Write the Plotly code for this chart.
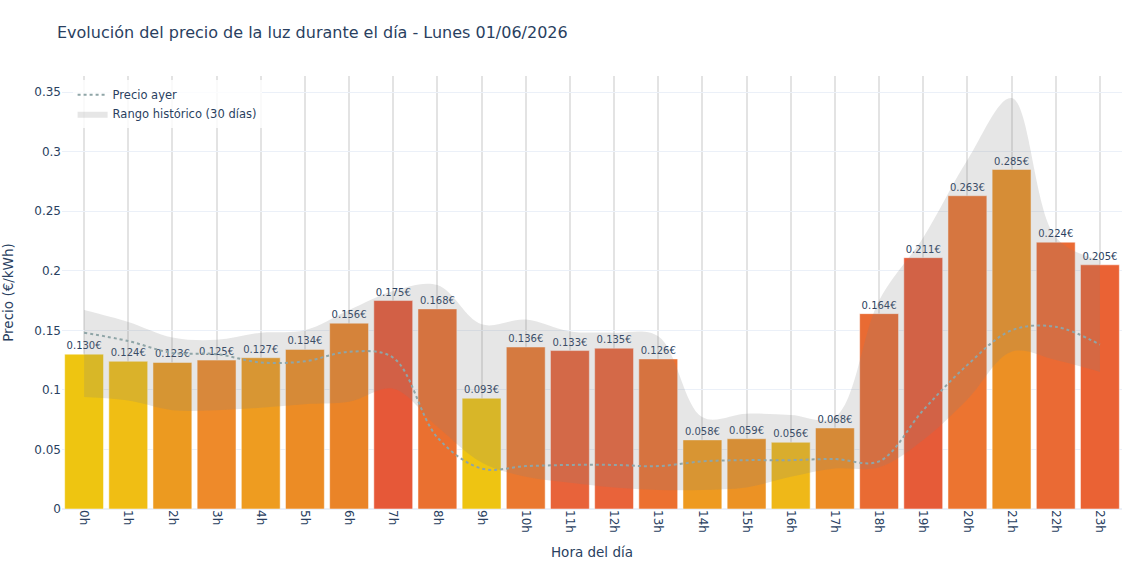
import plotly.graph_objects as go

horas = [f"{h}h" for h in range(24)]
precio_hoy = [0.130, 0.124, 0.123, 0.125, 0.127, 0.134, 0.156, 0.175, 0.168, 0.093,
              0.136, 0.133, 0.135, 0.126, 0.058, 0.059, 0.056, 0.068, 0.164, 0.211,
              0.263, 0.285, 0.224, 0.205]
precio_ayer = [0.148, 0.141, 0.131, 0.130, 0.123, 0.124, 0.132, 0.127, 0.060, 0.034,
               0.036, 0.037, 0.037, 0.036, 0.040, 0.041, 0.041, 0.042, 0.040, 0.083,
               0.121, 0.150, 0.153, 0.138]
rango_max = [0.167, 0.157, 0.144, 0.142, 0.148, 0.150, 0.167, 0.183, 0.188, 0.155,
             0.159, 0.149, 0.148, 0.145, 0.077, 0.080, 0.079, 0.077, 0.175, 0.228,
             0.293, 0.345, 0.228, 0.209]
rango_min = [0.094, 0.091, 0.083, 0.083, 0.085, 0.088, 0.090, 0.101, 0.069, 0.039,
             0.027, 0.022, 0.018, 0.016, 0.016, 0.018, 0.027, 0.034, 0.035, 0.058,
             0.092, 0.132, 0.125, 0.115]
colores_barras = ["#EEC511", "#F0BE14", "#EC9A20", "#EE8A2A", "#EE9C20", "#EC8C25",
                  "#EA8428", "#E65838", "#EA7030", "#EEC412", "#EA7830", "#E8633A",
                  "#E9633A", "#EC7030", "#EE9A20", "#EC9224", "#EFB818", "#EC8C25",
                  "#E96B33", "#E65B38", "#EC7430", "#EC9024", "#EA6A34", "#EA6234"]

fig = go.Figure()

fig.add_trace(go.Bar(
    x=horas, y=precio_hoy,
    marker=dict(color=colores_barras, line=dict(color="rgba(255,255,255,0.5)", width=1)),
    text=[f"{v:.3f}€" for v in precio_hoy],
    textposition="outside",
    textfont=dict(size=10, color="#2a3f5f"),
    showlegend=False,
    name="Precio hoy",
))

fig.add_trace(go.Scatter(
    x=horas, y=rango_min, mode="lines",
    line=dict(width=0, shape="spline"),
    showlegend=False, hoverinfo="skip",
))
fig.add_trace(go.Scatter(
    x=horas, y=rango_max, mode="lines",
    line=dict(width=0, shape="spline"),
    fill="tonexty", fillcolor="rgba(128,128,128,0.2)",
    name="Rango histórico (30 días)", legendrank=2,
))
fig.add_trace(go.Scatter(
    x=horas, y=precio_ayer, mode="lines",
    line=dict(color="#8fa5a7", width=2, dash="dot", shape="spline"),
    name="Precio ayer", legendrank=1,
))

fig.update_layout(
    template="plotly_white",
    width=1140, height=570,
    margin=dict(l=62, r=18, t=76, b=61),
    title=dict(text="Evolución del precio de la luz durante el día - Lunes 01/06/2026",
               x=0.05, font=dict(size=16)),
    bargap=0.12,
    legend=dict(x=0.01, y=0.99, xanchor="left", yanchor="top", traceorder="normal",
                bgcolor="rgba(255,255,255,0.8)", font=dict(size=11.5)),
    xaxis=dict(title=dict(text="Hora del día", font=dict(size=13.5)), tickangle=90,
               showgrid=True, gridcolor="#e3e3e3", gridwidth=1.5, automargin=False),
    yaxis=dict(title=dict(text="Precio (€/kWh)", font=dict(size=13.5), standoff=20),
               range=[0, 0.3635], dtick=0.05, gridcolor="#EBF0F8", automargin=False),
    font=dict(family="DejaVu Sans, sans-serif", size=12),
)

fig.write_html("out.html")
